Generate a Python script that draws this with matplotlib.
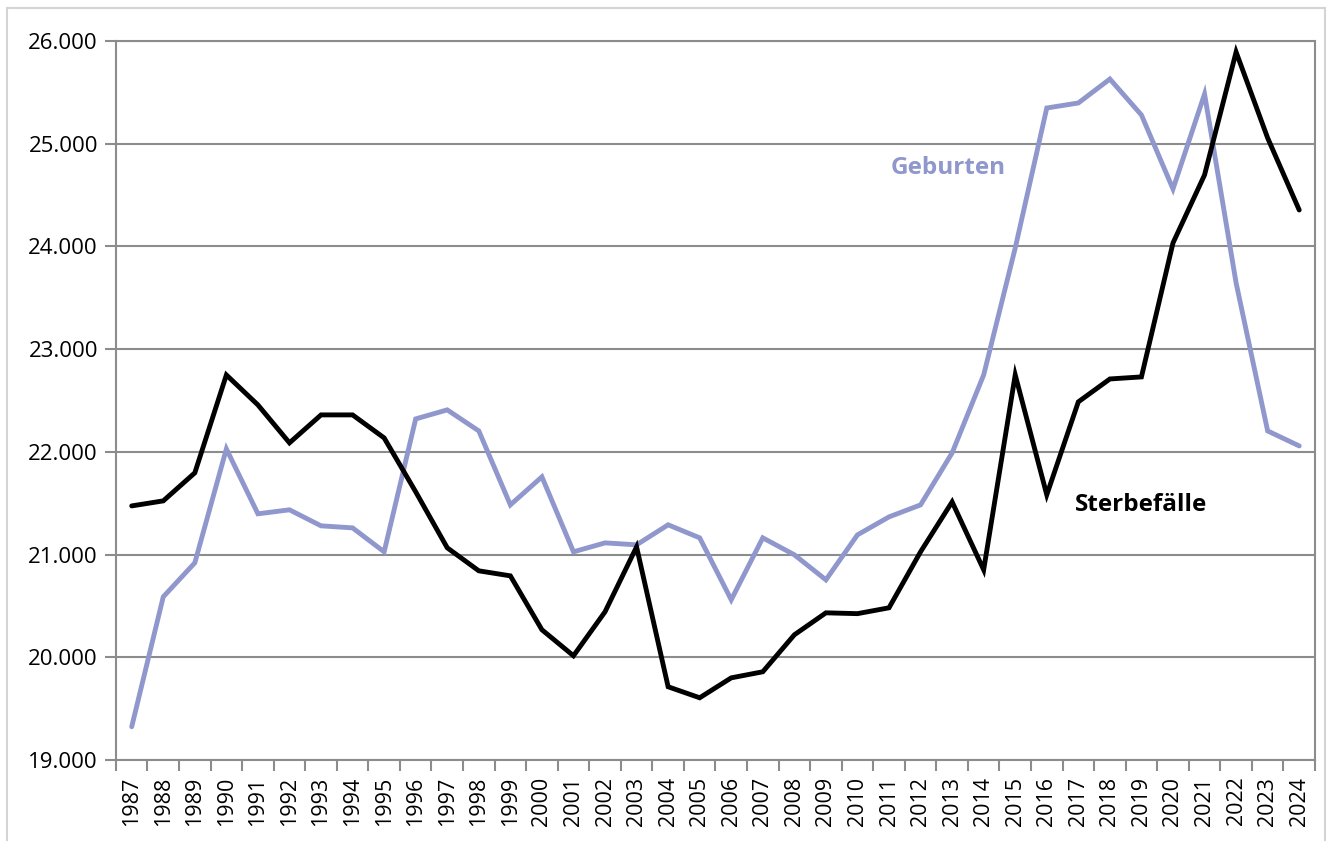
import matplotlib

matplotlib.use("Agg")
import matplotlib.pyplot as plt
from matplotlib.patches import Rectangle
from matplotlib.ticker import FuncFormatter, FixedLocator

plt.rcParams["font.family"] = ["Open Sans", "DejaVu Sans"]

years = list(range(1987, 2025))

geburten = [
    19324, 20589, 20920, 22029, 21397, 21436, 21280, 21260, 21027, 22321,
    22409, 22204, 21484, 21757, 21027, 21114, 21095, 21290, 21163, 20560,
    21163, 20998, 20754, 21192, 21367, 21484, 21990, 22749, 23985, 25348,
    25397, 25630, 25280, 24560, 25484, 23645, 22204, 22058,
]

sterbefaelle = [
    21474, 21523, 21796, 22749, 22457, 22088, 22360, 22360, 22136, 21611,
    21066, 20842, 20793, 20268, 20015, 20443, 21075, 19713, 19606, 19800,
    19859, 20219, 20433, 20425, 20482, 21027, 21513, 20852, 22749, 21582,
    22487, 22710, 22730, 24034, 24696, 25893, 25056, 24355,
]

y_ticks = [19000, 20000, 21000, 22000, 23000, 24000, 25000, 26000]

BLUE = "#8f97cc"
GRID = "#8c8c8c"


def _format_de(value, _pos=None):
    return f"{value:,.0f}".replace(",", ".")


fig = plt.figure(figsize=(13.28, 8.41), dpi=100)
fig.patches.append(
    Rectangle((0.0053, -0.05), 0.9925, 1.04, transform=fig.transFigure,
              fill=False, edgecolor="#d4d4d4", linewidth=1.5)
)
ax = fig.add_axes([0.0873, 0.0963, 0.9029, 0.8549])

x = list(range(len(years)))
ax.plot(x, geburten, color=BLUE, linewidth=3.5, solid_capstyle="round",
        solid_joinstyle="miter", zorder=3)
ax.plot(x, sterbefaelle, color="black", linewidth=3.5, solid_capstyle="round",
        solid_joinstyle="miter", zorder=4)

ax.set_xlim(-0.5, len(years) - 0.5)
ax.set_ylim(y_ticks[0], y_ticks[-1])
ax.set_yticks(y_ticks)
ax.yaxis.set_major_formatter(FuncFormatter(_format_de))
ax.grid(axis="y", color=GRID, linewidth=1.5, zorder=1)

ax.set_xticks(x)
ax.set_xticklabels([str(y) for y in years], rotation=90)
ax.xaxis.set_minor_locator(FixedLocator([i - 0.5 for i in range(len(years) + 1)]))
ax.tick_params(axis="x", which="major", length=0, pad=12, labelsize=15.5)
ax.tick_params(axis="x", which="minor", length=8, width=1.5, color=GRID, direction="out")
ax.tick_params(axis="y", length=8, width=1.5, color=GRID, labelsize=16, pad=5)

for side in ["left", "right", "top", "bottom"]:
    ax.spines[side].set_color(GRID)
    ax.spines[side].set_linewidth(1.5)

ax.text(25.87, 24764, "Geburten", color=BLUE, fontsize=17.5, fontweight="bold",
        ha="center", va="center")
ax.text(32.0, 21484, "Sterbefälle", color="black", fontsize=17.5, fontweight="bold",
        ha="center", va="center")

fig.savefig("out.png", dpi=100)
